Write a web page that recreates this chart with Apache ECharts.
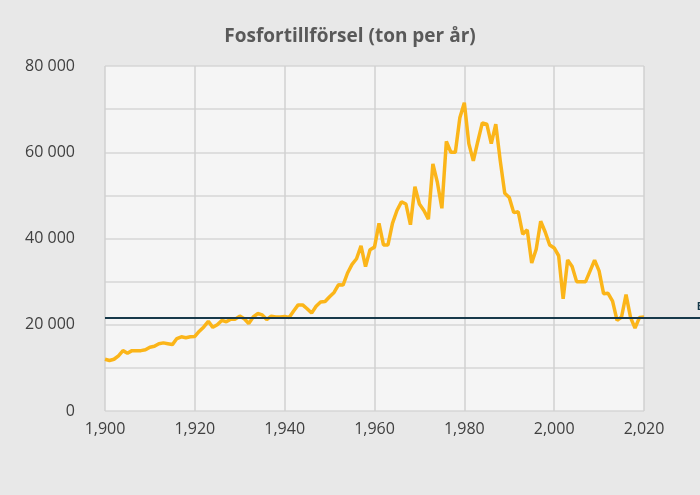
<!DOCTYPE html>
<html><head><meta charset="utf-8">
<script src="https://cdn.jsdelivr.net/npm/echarts@6/dist/echarts.min.js"></script>
<style>html,body{margin:0;background:#e8e8e8}#c{width:700px;height:495px}</style>
</head><body><div id="c"></div>
<script>
var startYear = 1900;
var values = [12000,11700,12000,12800,14000,13400,14000,14000,14000,14200,14800,15000,15600,15800,15600,15400,16800,17200,17000,17200,
17300,18500,19500,20800,19400,20000,21000,20700,21300,21300,22000,21400,20300,21800,22600,22300,21200,22000,21800,21800,
21900,21700,23200,24600,24600,23700,22700,24300,25300,25400,26500,27500,29300,29200,32000,34000,35300,38300,33500,37400,
38000,43500,38500,38500,43500,46500,48500,48000,43200,52000,48000,46500,44500,57300,53000,47000,62500,60000,60000,68000,
71500,62000,58000,62500,66800,66500,62000,66500,58000,50500,49500,46000,46200,41000,42000,34300,37500,44000,41500,38500,
37800,36000,26000,35000,33500,30000,30000,30000,32500,35000,32500,27200,27300,25500,21000,21800,27000,21700,19200,21700,21800];
var bsap = 21700;
var points = values.map(function (v, i) { return [startYear + i, v]; });

var chart = echarts.init(document.getElementById('c'));
chart.setOption({
    backgroundColor: '#e8e8e8',
    title: {
        text: 'Fosfortillförsel (ton per år)',
        left: 'center', top: 22,
        textStyle: {fontFamily: 'Open Sans', fontSize: 19, fontWeight: 'bold', color: '#595959'}
    },
    grid: {left: 105, right: 56, top: 66, bottom: 84, show: true, backgroundColor: '#f5f5f5', borderWidth: 0},
    xAxis: {
        type: 'value', min: 1900, max: 2020, interval: 20,
        axisLine: {show: false}, axisTick: {show: false},
        axisLabel: {fontSize: 16, color: '#404040', fontFamily: 'Open Sans', margin: 10},
        splitLine: {lineStyle: {color: '#d0d0d0', width: 1.5}}
    },
    yAxis: {
        type: 'value', min: 0, max: 80000, interval: 10000,
        axisLine: {show: false}, axisTick: {show: false},
        axisLabel: {fontSize: 16, color: '#404040', fontFamily: 'Open Sans', margin: 30,
            formatter: function (v) { return v % 20000 ? '' : (v === 0 ? '0' : (v / 1000) + ' 000'); }},
        splitLine: {lineStyle: {color: '#d6d6d6', width: 1.5}}
    },
    series: [{
        type: 'line', data: points, showSymbol: false,
        lineStyle: {color: '#fbb519', width: 3.5},
        markLine: {
            silent: true, symbol: 'none',
            lineStyle: {color: '#17394a', width: 2, type: 'solid'},
            label: {position: 'end', formatter: 'BSAP', color: '#17394a', fontWeight: 'bold', fontSize: 11, offset: [-8, -10]},
            data: [[{coord: [1899, bsap], x: 105}, {coord: [2020, bsap], x: 700}]]
        }
    }]
});
</script></body></html>
